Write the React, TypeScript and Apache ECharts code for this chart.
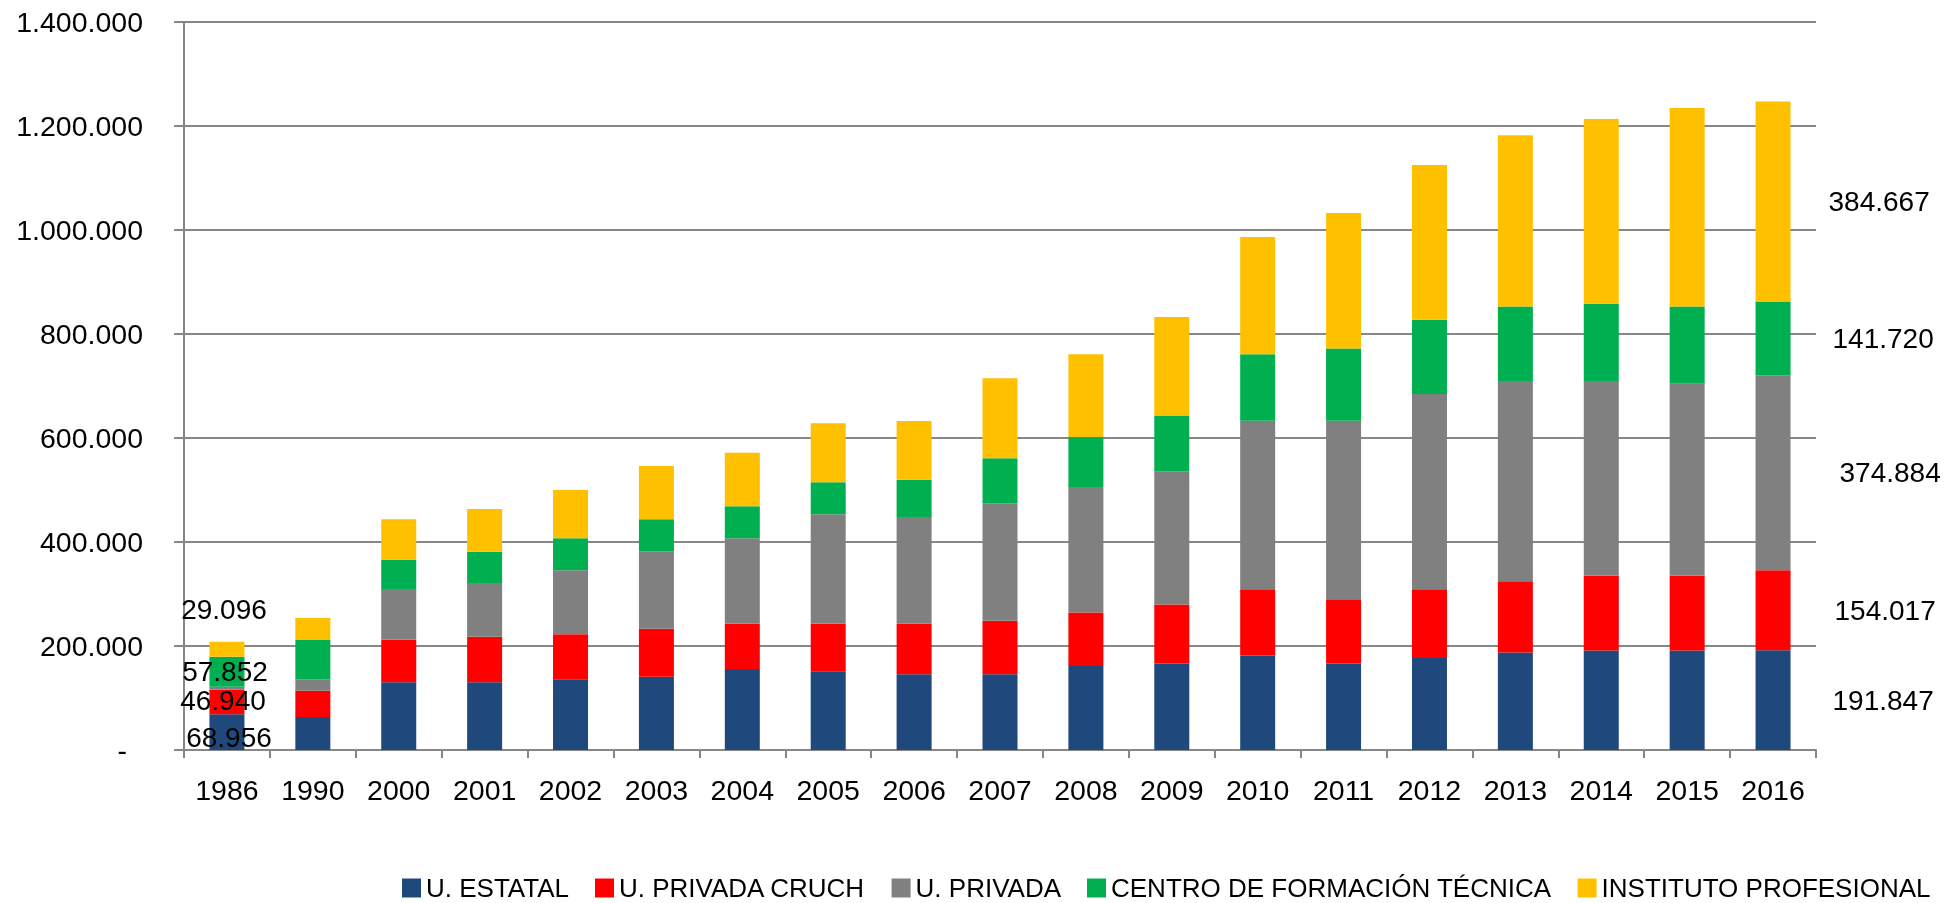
import React, { useEffect, useRef } from "react";
import * as echarts from "echarts";

const years = ["1986", "1990", "2000", "2001", "2002", "2003", "2004", "2005", "2006", "2007", "2008", "2009", "2010", "2011", "2012", "2013", "2014", "2015", "2016"];
const seriesNames = ["U. ESTATAL", "U. PRIVADA CRUCH", "U. PRIVADA", "CENTRO DE FORMACIÓN TÉCNICA", "INSTITUTO PROFESIONAL"];
const estatal = [68956, 63450, 130150, 130150, 135900, 141000, 155750, 151300, 145500, 145500, 161300, 166550, 181900, 166550, 176750, 187700, 191550, 191550, 191847];
const privadaCruch = [46940, 50600, 82050, 87750, 86500, 92300, 87200, 91650, 97450, 103200, 103100, 113250, 127350, 123450, 132500, 136900, 143450, 143450, 154017];
const privada = [5500, 21900, 97400, 103250, 123100, 148750, 164100, 210250, 205150, 225650, 241350, 256150, 323850, 343100, 375350, 385000, 374600, 369450, 374884];
const cft = [57852, 75600, 56400, 60250, 61550, 61550, 61550, 61550, 71750, 86550, 96350, 107300, 128050, 139000, 142700, 143500, 148650, 148650, 141720];
const ip = [29096, 42300, 77600, 82050, 92950, 102550, 103200, 113450, 112850, 153900, 159050, 189250, 225200, 260600, 297700, 329050, 355050, 381500, 384667];
const colors = ["#1F497D", "#FF0000", "#808080", "#00B050", "#FFC000"];

const FONT = "'Liberation Sans', Arial, sans-serif";
const fmt = (v: number) => Math.round(v).toString().replace(/\B(?=(\d{3})+(?!\d))/g, ".");

// label settings: first-bar labels and last-bar labels
const firstLabels: any[] = [
  { show: true, position: "inside", offset: [2, 5] },
  { show: true, position: "inside", offset: [-4, -1] },
  null,
  { show: true, position: "inside", offset: [-2, 0] },
  { show: true, position: "top", distance: 18, offset: [-3, 0] },
];
const lastDistances = [42, 44, 49, 42, 38];

export default function App() {
  const ref = useRef<HTMLDivElement>(null);
  useEffect(() => {
    const chart = echarts.init(ref.current!, undefined, { renderer: "svg" });
    const all = [estatal, privadaCruch, privada, cft, ip];
    const labelText = { fontFamily: FONT, fontSize: 28, color: "#000", formatter: (p: any) => fmt(p.value) };
    const series = all.map((arr, si) => ({
      name: seriesNames[si],
      type: "bar",
      stack: "total",
      barWidth: 35,
      itemStyle: { color: colors[si] },
      data: arr.map((v, i) => {
        if (i === 0 && firstLabels[si]) return { value: v, label: { ...labelText, ...firstLabels[si] } };
        if (i === arr.length - 1)
          return { value: v, label: { ...labelText, show: true, position: "right", distance: lastDistances[si] } };
        return v;
      }),
    }));
    chart.setOption({
      animation: false,
      color: colors,
      grid: { left: 184, right: 130, top: 22, bottom: 153, containLabel: false },
      legend: {
        data: seriesNames,
        left: 402,
        top: 875,
        padding: 0,
        icon: "rect",
        itemWidth: 19,
        itemHeight: 19,
        itemGap: 26,
        textStyle: { fontFamily: FONT, fontSize: 26, color: "#000" },
      },
      xAxis: {
        type: "category",
        data: years,
        axisLine: { lineStyle: { color: "#878787", width: 2 } },
        axisTick: { show: true, length: 8, lineStyle: { color: "#878787", width: 2 } },
        axisLabel: { fontFamily: FONT, fontSize: 28.5, color: "#000", margin: 25, interval: 0 },
      },
      yAxis: {
        type: "value",
        min: 0,
        max: 1400000,
        interval: 200000,
        axisLine: { show: true, lineStyle: { color: "#878787", width: 2 } },
        axisTick: { show: true, length: 10, lineStyle: { color: "#878787", width: 2 } },
        splitLine: { show: true, lineStyle: { color: "#878787", width: 2 } },
        axisLabel: {
          fontFamily: FONT,
          fontSize: 28.5,
          color: "#000",
          margin: 41,
          formatter: (v: number) => (v === 0 ? "{z|-}" : fmt(v)),
          rich: { z: { fontFamily: FONT, fontSize: 28.5, color: "#000", padding: [0, 16, 0, 0] } },
        },
      },
      series,
    });
    return () => chart.dispose();
  }, []);
  return <div ref={ref} style={{ position: "fixed", left: 0, top: 0, width: 1946, height: 903 }} />;
}
